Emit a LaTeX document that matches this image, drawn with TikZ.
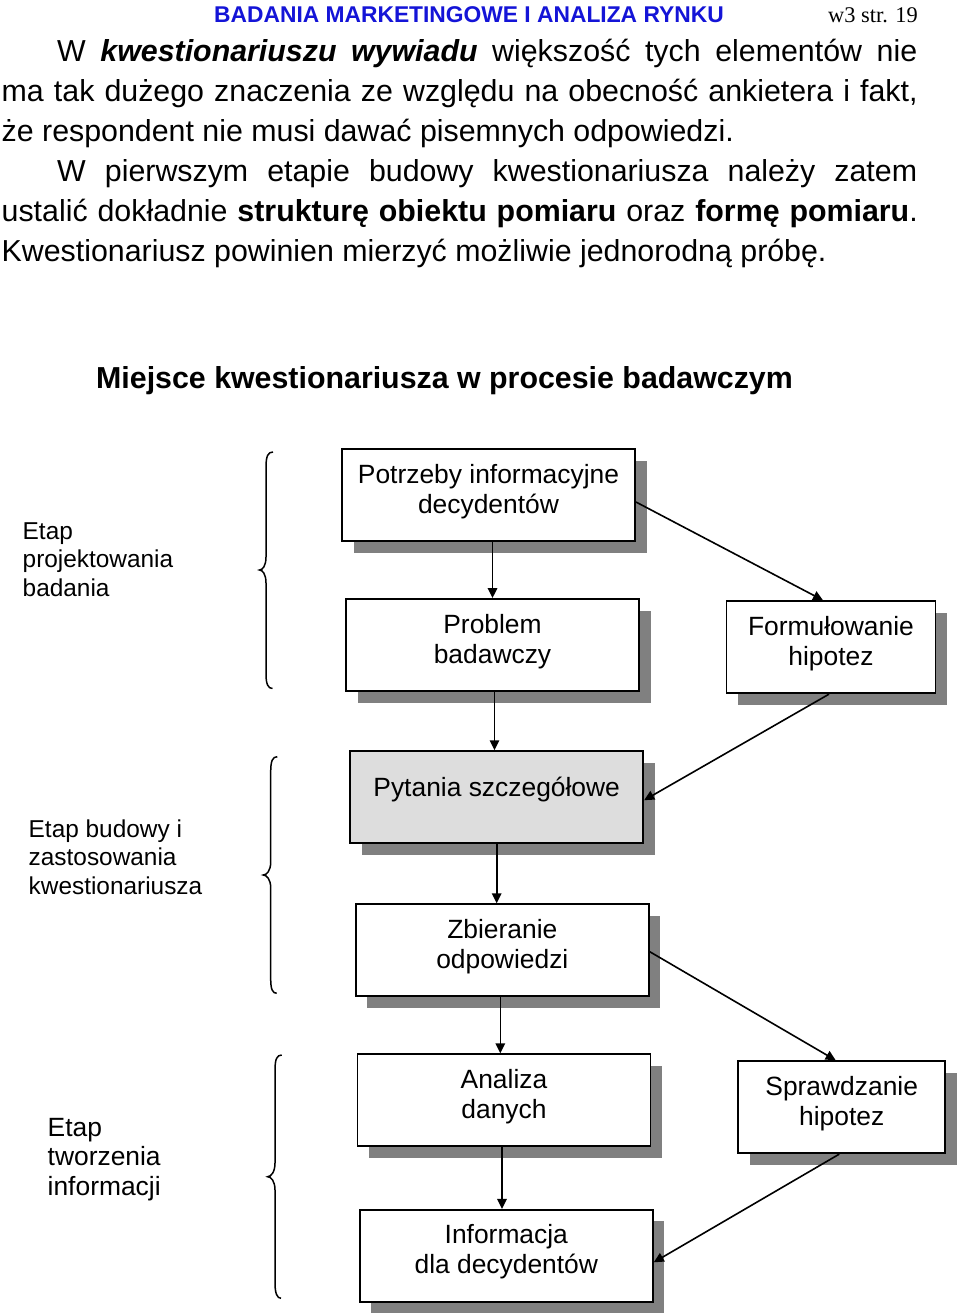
\documentclass[tikz,border=0pt]{standalone}
\usepackage{fontspec}
\setmainfont{Liberation Sans}
\newfontfamily\timesf{Liberation Serif}
\usetikzlibrary{arrows.meta,shadows}
\definecolor{shadowc}{RGB}{128,128,128}
\definecolor{boxgray}{RGB}{221,221,221}
\definecolor{headblue}{RGB}{20,20,215}
\newcommand\twolines[2]{\vtop{\halign{\hfil##\hfil\cr #1\cr #2\cr}}}
\newcommand\threelines[3]{\vtop{\halign{##\hfil\cr #1\cr #2\cr #3\cr}}}
\begin{document}
\begin{tikzpicture}[x=1pt,y=-1pt,
  box/.style={draw=black, line width=1.9pt, fill=white, rectangle, inner sep=0pt,
    minimum width=293pt, minimum height=92pt,
    drop shadow={shadow xshift=11.5pt, shadow yshift=-11.5pt, fill=shadowc, opacity=1}},
  smallbox/.style={box, minimum width=209pt},
  btxt/.style={anchor=base, inner sep=0pt, font=\fontsize{26.4}{30}\selectfont},
  lab/.style={anchor=base west, inner sep=0pt, font=\fontsize{24.4}{28.4}\selectfont},
  labbig/.style={anchor=base west, inner sep=0pt, font=\fontsize{26.4}{29.7}\selectfont},
  body/.style={anchor=base west, inner sep=0pt, font=\fontsize{30.35}{40}\selectfont},
  arr/.style={-{Triangle[length=10pt,width=9.5pt]}, line width=1.6pt},
  bracepath/.style={line width=1.5pt}]
\useasboundingbox (0,0) rectangle (960,1315);
\fill[white] (0,0) rectangle (960,1315);

% header
\node[anchor=base west, inner sep=0pt, font=\bfseries\fontsize{22.8}{26}\selectfont, text=headblue] (hd) at (214,22.5) {BADANIA MARKETINGOWE I ANALIZA RYNKU};
\node[anchor=base west, inner sep=0pt, font=\timesf\fontsize{22.4}{26}\selectfont] (pg) at (828,22.5) {w3 str. 19};

% body text
\node[body] (l1) at (57,61.7) {\makebox[860pt][s]{W \textbf{\textit{kwestionariuszu wywiadu}} większość tych elementów nie}};
\node[body] (l2) at (1.5,101.7) {\makebox[916pt][s]{ma tak dużego znaczenia ze względu na obecność ankietera i fakt,}};
\node[body] (l3) at (1.5,141.7) {że respondent nie musi dawać pisemnych odpowiedzi.};
\node[body] (l4) at (57,181.7) {\makebox[860pt][s]{W pierwszym etapie budowy kwestionariusza należy zatem}};
\node[body] (l5) at (1.5,221.7) {\makebox[916pt][s]{ustalić dokładnie \textbf{strukturę obiektu pomiaru} oraz \textbf{formę pomiaru}.}};
\node[body] (l6) at (1.5,261.7) {Kwestionariusz powinien mierzyć możliwie jednorodną próbę.};

% title
\node[body, font=\bfseries\fontsize{30.35}{40}\selectfont] (ttl) at (96,388.3) {Miejsce kwestionariusza w procesie badawczym};

% boxes
\node[box] (p1) at (488.5,495) {};
\node[box] (p2) at (492.5,645) {};
\node[smallbox] (f) at (831,647.2) {};
\node[box, fill=boxgray] (p3) at (496.7,797.2) {};
\node[box] (p4) at (502.3,950.2) {};
\node[box] (p5) at (504,1100.3) {};
\node[smallbox, minimum width=207pt] (s) at (841.7,1107.2) {};
\node[box] (p6) at (506.3,1255.8) {};

% box texts
\node[btxt] (t1) at ([yshift=-35pt]p1.north) {\twolines{Potrzeby informacyjne}{decydentów}};
\node[btxt] (t2) at ([yshift=-35pt]p2.north) {\twolines{Problem}{badawczy}};
\node[btxt] (tf) at ([yshift=-35pt]f.north) {\twolines{Formułowanie}{hipotez}};
\node[btxt] (t3) at ([yshift=-46pt]p3.north) {Pytania szczegółowe};
\node[btxt] (t4) at ([yshift=-35pt]p4.north) {\twolines{Zbieranie}{odpowiedzi}};
\node[btxt] (t5) at ([yshift=-35pt]p5.north) {\twolines{Analiza}{danych}};
\node[btxt] (ts) at ([yshift=-35pt]s.north) {\twolines{Sprawdzanie}{hipotez}};
\node[btxt] (t6) at ([yshift=-35pt]p6.north) {\twolines{Informacja}{dla decydentów}};

% stage labels
\node[lab] (e1) at (22.5,539.5) {\threelines{Etap}{projektowania}{badania}};
\node[lab] (e2) at (28.5,837.5) {\threelines{Etap budowy i}{zastosowania}{kwestionariusza}};
\node[labbig] (e3) at (47.5,1136) {\threelines{Etap}{tworzenia}{informacji}};

% braces
\draw[bracepath] (273,452) .. controls (268,452) and (266,456) .. (266,467) -- (266,557)
  .. controls (266,566) and (262.5,570) .. (259.5,570)
  .. controls (262.5,570) and (266,574) .. (266,583) -- (266,674)
  .. controls (266,684) and (268,688.5) .. (272.5,688.5);
\draw[bracepath] (277.3,756.7) .. controls (272.5,756.7) and (270.7,761) .. (270.7,772) -- (270.7,862)
  .. controls (270.7,871) and (266.5,875) .. (263.3,875)
  .. controls (266.5,875) and (270.7,879) .. (270.7,888) -- (270.7,979)
  .. controls (270.7,989) and (272.5,993.3) .. (276.7,993.3);
\draw[bracepath] (281.7,1055) .. controls (277,1055) and (275,1059) .. (275,1070) -- (275,1163)
  .. controls (275,1172) and (271,1176.7) .. (267.7,1176.7)
  .. controls (271,1176.7) and (275,1181) .. (275,1190) -- (275,1283)
  .. controls (275,1293) and (277,1298.3) .. (281,1298.3);

% vertical arrows
\draw[arr] ([xshift=4pt]p1.south) -- ([xshift=4pt]p1.south |- p2.north);
\draw[arr] ([xshift=2pt]p2.south) -- ([xshift=2pt]p2.south |- p3.north);
\draw[arr] (p3.south) -- (p3.south |- p4.north);
\draw[arr] ([xshift=-2pt]p4.south) -- ([xshift=-2pt]p4.south |- p5.north);
\draw[arr] ([xshift=-2pt]p5.south) -- ([xshift=-2pt]p5.south |- p6.north);

% diagonal arrows
\draw[arr] ([yshift=-7pt]p1.east) -- ([xshift=-8pt]f.north);
\draw[arr] ([xshift=-2pt]f.south) -- ([yshift=-3pt]p3.east);
\draw[arr] ([yshift=-1.5pt]p4.east) -- ([xshift=-6pt]s.north);
\draw[arr] ([xshift=-2.5pt]s.south) -- ([yshift=-6.5pt]p6.east);
\end{tikzpicture}
\end{document}
